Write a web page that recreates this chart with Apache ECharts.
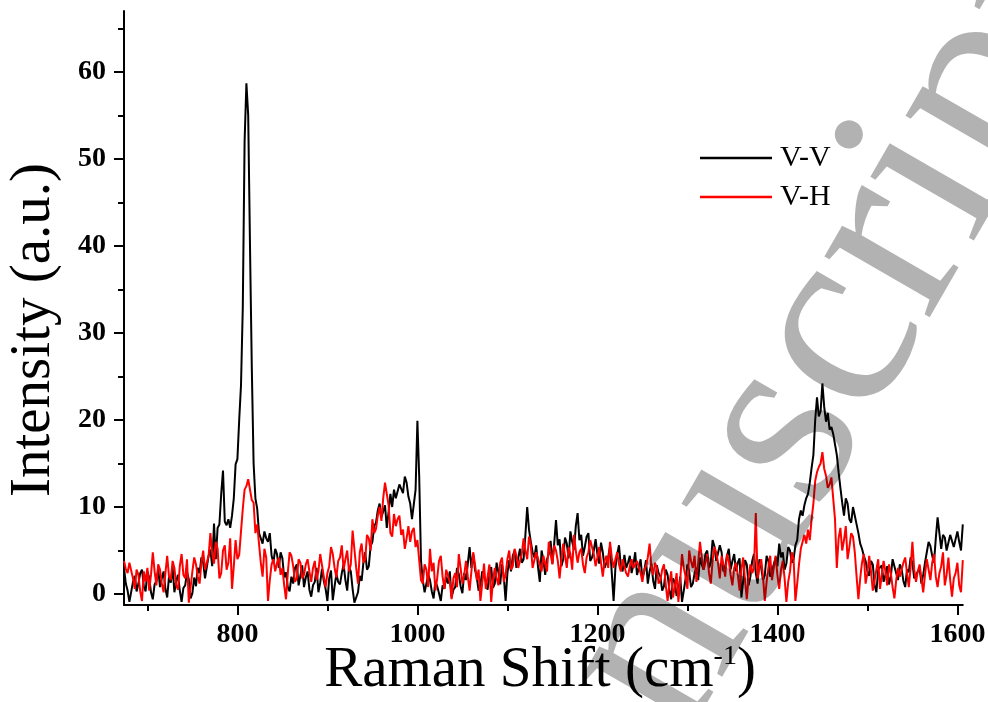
<!DOCTYPE html>
<html>
<head>
<meta charset="utf-8">
<script src="https://cdn.jsdelivr.net/npm/echarts@6/dist/echarts.min.js"></script>
<style>
  html, body { margin: 0; padding: 0; background: #ffffff; }
  #chart { width: 988px; height: 702px; }
</style>
</head>
<body>
<div id="chart"></div>
<script>
// Raman shift grid (cm^-1): first point and spacing
const shiftStart = 674;
const shiftStep = 2;

// V-V polarised intensity (a.u.), one value per grid point (674 ... 1606)
const vv = [
  3.0, 1.2, 0.4, -0.9, -1.0, 1.4, 2.1, 0.3, 1.2, 2.4, 2.8, 0.9, 0.3, 2.6, 1.9, 0.2, -0.6, 1.1, 1.5, 2.9,
  0.8, 1.8, 2.6, 0.6, -0.4, 2.0, 1.3, 3.1, 0.2, 1.5, 2.2, 0.4, -0.9, 0.7, 1.0, 2.5, 1.7, -0.5, 0.1, 1.9,
  0.9, 3.0, 2.4, 4.2, 3.6, 1.8, 2.0, 4.4, 5.1, 3.2, 8.1, 4.0, 7.6, 8.0, 11.5, 14.2, 8.3, 7.9, 8.6, 7.6,
  9.0, 11.0, 14.9, 15.5, 20.0, 24.0, 33.0, 52.0, 58.7, 55.0, 40.0, 26.0, 15.0, 11.0, 9.8, 7.0, 6.9, 5.8, 7.2, 6.4,
  6.0, 7.0, 4.4, 3.6, 5.2, 4.6, 3.0, 4.8, 4.1, 1.9, 2.5, 0.8, 0.3, 2.0, 1.2, 3.0, 3.4, 1.0, 2.1, 3.3,
  0.8, 1.9, 2.6, 0.5, -0.3, 1.0, 1.4, 3.0, 0.2, 1.3, 2.9, 1.5, 0.6, -0.8, 1.8, 2.7, -0.7, 0.9, 2.3, 1.4,
  1.1, 2.4, 3.4, 1.6, 0.4, 3.1, 2.6, 0.6, -1.0, -0.4, 0.2, 2.1, 1.5, 3.6, 4.8, 2.8, 3.2, 5.5, 6.0, 7.8,
  8.2, 9.6, 10.4, 8.8, 9.0, 10.2, 7.6, 9.4, 11.5, 10.0, 12.0, 11.0, 10.8, 12.6, 12.4, 11.6, 13.5, 12.8, 11.2, 10.4,
  8.6, 8.4, 12.0, 19.9, 13.5, 3.8, 1.6, 0.2, 0.4, 2.2, 1.6, 0.3, -0.5, 1.5, 0.9, 0.1, -0.8, 1.0, 0.6, 2.0,
  1.2, 2.6, -0.4, 0.5, 0.8, 3.0, 2.3, 0.9, 0.1, 2.4, 1.6, 3.5, 5.4, 3.0, 4.6, 2.8, 1.9, 0.4, 1.0, 2.6,
  2.8, 1.4, 0.5, 2.2, 3.1, 0.7, 1.2, 3.6, 2.5, 1.1, 3.4, 2.0, -0.8, 2.4, 3.9, 2.6, 4.4, 5.0, 3.0, 4.1,
  5.2, 3.6, 4.0, 6.8, 10.0, 7.4, 6.0, 4.8, 4.2, 5.6, 3.1, 1.4, 5.0, 3.9, 2.2, 4.0, 4.6, 6.1, 3.5, 5.8,
  8.5, 5.6, 6.3, 3.2, 4.0, 6.5, 5.8, 4.1, 7.2, 6.0, 5.1, 7.8, 9.3, 6.2, 6.8, 4.4, 5.4, 6.6, 7.0, 3.8,
  4.2, 5.0, 6.3, 4.6, 3.5, 5.9, 4.8, 3.0, 2.9, 4.2, 5.5, 2.4, -0.8, 3.0, 4.6, 5.6, 3.2, 2.6, 4.5, 3.0,
  3.6, 4.4, 2.4, 3.4, 4.8, 2.2, 3.0, 4.0, 1.8, 2.6, 3.9, 1.2, 2.6, 3.5, 1.5, 0.6, 3.3, 2.4, 2.0, 0.4,
  0.9, 2.8, 2.2, 0.5, -0.6, 1.8, 1.4, -0.2, 0.3, 2.0, -0.9, 0.4, 1.8, 3.4, 2.6, 0.8, 1.2, 2.4, 3.0, 1.6,
  4.2, 3.4, 2.8, 4.6, 5.0, 3.0, 3.6, 6.2, 5.5, 3.8, 4.0, 5.6, 4.8, 2.6, 3.2, 4.4, 5.2, 2.8, 3.8, 4.6,
  2.6, 3.6, 4.1, -0.4, 1.5, 3.9, 3.4, 1.0, 2.0, 3.8, 4.6, 2.4, 1.2, 4.0, 3.0, 1.6, 2.2, 4.4, 3.8, 2.0,
  2.4, 3.4, 4.2, 3.2, 5.8, 4.2, 4.8, 2.8, 3.5, 5.4, 5.0, 3.6, 4.0, 5.6, 6.2, 8.6, 9.6, 9.0, 10.2, 11.0,
  11.5, 12.8, 14.5, 16.0, 20.0, 22.6, 20.4, 21.0, 24.2, 21.5, 19.8, 20.8, 18.9, 19.2, 18.4, 17.2, 16.0, 14.0, 12.2, 10.5,
  9.0, 11.0, 10.4, 8.6, 8.2, 10.0, 9.8, 8.0, 7.0, 5.8, 5.2, 4.4, 3.8, 2.6, 2.1, 3.8, 3.4, 1.0, 0.2, 2.8,
  2.6, 3.3, 1.4, 2.2, 3.2, 1.1, 2.0, 4.0, 3.8, 2.4, 1.6, 3.4, 2.9, 1.5, 0.8, 2.8, 2.5, 4.2, 3.6, 1.8,
  1.8, 2.6, 3.0, 1.2, 2.2, 3.6, 4.8, 6.0, 5.5, 4.4, 3.6, 6.4, 8.8, 7.0, 5.2, 6.8, 6.5, 5.0, 4.8, 6.8,
  7.0, 5.4, 5.6, 7.2, 6.0, 5.0, 8.0
];

// V-H polarised intensity (a.u.), same grid
const vh = [
  3.8, 2.9, 2.4, 3.6, 3.5, 1.8, 0.6, 2.8, 2.2, 0.3, -0.8, 2.6, 1.4, 3.0, 0.4, 2.2, 4.8, 2.6, 1.0, 3.4,
  2.8, 1.2, 0.2, 2.4, 4.4, 2.0, 1.6, 3.8, 3.0, 1.0, 0.5, 3.2, 4.6, 2.2, 1.8, 4.0, -1.0, 0.8, 2.6, 4.2,
  3.4, 2.0, 1.2, 3.6, 5.0, 2.8, 2.6, 4.4, 7.0, 4.6, 3.5, 6.0, 5.2, 1.8, 2.4, 5.0, 5.6, 2.8, 3.6, 6.4,
  0.6, 3.2, 6.2, 4.0, 4.5, 7.2, 9.8, 12.0, 12.4, 13.2, 13.0, 10.8, 10.5, 7.0, 8.0, 5.8, 3.6, 2.0, 5.2, 4.2,
  -0.8, 1.6, 3.4, 4.0, 2.6, 3.6, 4.2, 2.2, 3.0, 1.0, -0.6, 2.4, 4.8, 4.4, 3.2, 1.4, 1.8, 4.0, 3.6, 1.8,
  2.2, 3.4, 4.0, 2.6, 1.4, 3.0, 3.8, 1.6, 2.6, 4.6, 4.4, 2.0, 0.8, 2.4, 3.2, 5.4, 4.6, 3.0, 1.9, 3.8,
  4.2, 5.6, 2.8, 4.0, 5.0, 2.6, 3.4, 7.3, 7.2, 3.0, 1.2, 4.8, 5.8, 3.6, 4.0, 6.8, 6.4, 5.0, 8.6, 7.0,
  7.5, 9.0, 10.0, 8.4, 11.0, 12.8, 12.7, 10.2, 7.0, 6.6, 9.2, 7.8, 8.6, 9.0, 6.8, 7.4, 5.2, 6.4, 7.8, 6.0,
  7.2, 7.6, 5.4, 6.2, 6.4, 1.6, 1.2, 3.4, 2.8, 0.8, 5.2, 2.6, 3.6, 0.4, 1.8, 3.8, 4.4, 2.0, 0.6, 2.8,
  3.0, 1.4, -0.6, 1.8, 2.4, 0.8, 4.6, 3.0, 1.2, 2.2, 3.8, 2.0, 0.4, 2.6, 4.8, 3.4, 1.6, 2.8, -0.8, 1.2,
  3.5, 0.6, 2.0, 3.4, -0.9, 1.6, 3.0, 1.8, 1.0, 3.6, 4.2, 1.4, 2.2, 4.0, 5.0, 2.8, 3.2, 5.2, 4.4, 3.0,
  2.8, 4.6, 6.4, 5.0, 4.0, 6.6, 5.6, 3.0, 3.2, 4.8, 5.0, 3.4, 2.6, 4.4, 4.2, 2.6, 6.0, 4.6, 3.4, 5.6,
  5.0, 3.8, 1.8, 4.0, 5.8, 4.4, 3.0, 5.4, 4.6, 2.8, 6.8, 5.0, 3.6, 4.8, 5.2, 3.4, 2.4, 4.2, 4.8, 6.2,
  6.4, 4.6, 3.2, 4.2, 5.4, 3.6, 2.0, 3.8, 4.4, 3.0, 6.0, 4.2, 3.0, 4.0, 4.8, 3.4, 2.6, 4.0, 3.8, 2.4,
  2.0, 3.2, 4.0, 3.0, 2.8, 3.8, 3.6, 2.4, 1.4, 2.8, 3.2, 4.2, 5.8, 3.0, 2.2, 3.6, 3.0, 1.2, 1.6, 2.8,
  3.4, 1.0, -0.8, 1.2, 2.6, -0.4, 0.8, 2.4, -0.9, 1.6, 4.6, 3.0, 2.0, 0.6, 5.0, 3.8, 3.0, 4.4, 1.4, 3.6,
  6.0, 4.2, 2.8, 3.6, 4.6, 2.4, 1.2, 3.8, 5.4, 4.8, 3.6, 1.8, 4.4, 3.2, 2.0, 4.6, 3.8, 2.2, 1.0, 3.0,
  3.6, 2.2, 0.4, 2.8, 4.2, 1.6, -0.6, 2.0, 3.4, 2.4, 3.0, 9.3, 1.8, 3.2, 4.0, 2.0, -0.8, 1.4, 3.0, 4.4,
  1.6, 3.0, 4.4, 2.2, 0.6, 2.8, 3.8, 1.8, -0.9, 1.4, 2.6, 4.8, 4.0, -0.8, 1.2, 3.4, 5.2, 6.0, 6.8, 5.8,
  7.4, 6.2, 8.6, 10.4, 13.0, 14.0, 14.6, 15.0, 16.3, 14.4, 13.6, 12.2, 12.6, 13.4, 11.0, 8.6, 3.0, 6.4, 7.6, 5.0,
  6.2, 7.8, 4.0, 5.4, 7.0, 6.6, 4.8, 2.0, -0.6, 1.8, 3.6, 4.6, 1.2, 2.4, 4.4, 2.6, 0.4, 1.6, 2.8, 4.0,
  0.6, 2.2, 3.8, 2.6, 1.0, 3.4, 2.4, 0.8, -0.5, 1.6, 3.0, 2.0, 1.8, 3.6, 4.2, 2.4, 0.8, 3.0, 6.0, 2.8,
  1.4, 2.6, 3.4, 1.8, 0.2, 2.2, 4.0, 2.8, 1.6, 3.6, 4.6, 2.0, 0.8, 2.4, 3.2, 4.8, 1.0, 2.2, 4.2, 1.6,
  -0.3, 1.8, 2.4, 3.6, 1.0, 0.2, 3.9
];

const seriesNames = ['V-V', 'V-H'];
const seriesColors = ['#000000', '#ff0000'];

// Axis ticks and labels
const xTicks = [800, 1000, 1200, 1400, 1600];
const xMinorTicks = [700, 900, 1100, 1300, 1500];
const yTicks = [0, 10, 20, 30, 40, 50, 60];
const yMinorTicks = [5, 15, 25, 35, 45, 55, 65];

const xRange = [674, 1606];
const yRange = [-1.26, 67];

const serif = '"Liberation Serif", "Times New Roman", serif';

function pairs(values) {
  return values.map((v, i) => [shiftStart + shiftStep * i, v]);
}

const axisLineStyle = { color: '#000', width: 2 };
const plainNumber = (v) => String(v);

const chart = echarts.init(document.getElementById('chart'), null, { renderer: 'canvas' });

chart.setOption({
  backgroundColor: '#ffffff',
  animation: false,
  grid: {
    left: 124, right: 25.2, top: 11, bottom: 97,
    containLabel: false,
    outerBoundsMode: 'none'
  },
  legend: {
    orient: 'vertical',
    left: 700,
    top: 143,
    padding: 0,
    itemGap: 9,
    itemWidth: 72,
    itemHeight: 2.5,
    icon: 'rect',
    data: seriesNames,
    textStyle: { fontFamily: serif, fontSize: 30, color: '#000', lineHeight: 30, padding: [0, 0, 0, 3] }
  },
  xAxis: [
    {
      type: 'value', min: xRange[0], max: xRange[1], position: 'bottom',
      axisLine: { show: true, onZero: false, lineStyle: axisLineStyle },
      axisTick: { show: true, inside: false, length: 10, lineStyle: axisLineStyle, customValues: xTicks },
      axisLabel: {
        show: true, customValues: xTicks, margin: 16, formatter: plainNumber,
        fontFamily: serif, fontSize: 28, fontWeight: 'bold', color: '#000'
      },
      splitLine: { show: false }
    },
    {
      type: 'value', min: xRange[0], max: xRange[1], position: 'bottom',
      axisLine: { show: false, onZero: false },
      axisTick: { show: true, inside: false, length: 6, lineStyle: axisLineStyle, customValues: xMinorTicks },
      axisLabel: { show: false },
      splitLine: { show: false }
    }
  ],
  yAxis: [
    {
      type: 'value', min: yRange[0], max: yRange[1], position: 'left',
      axisLine: { show: true, onZero: false, lineStyle: axisLineStyle },
      axisTick: { show: true, inside: false, length: 10, lineStyle: axisLineStyle, customValues: yTicks },
      axisLabel: {
        show: true, customValues: yTicks, margin: 18, formatter: plainNumber,
        fontFamily: serif, fontSize: 28, fontWeight: 'bold', color: '#000'
      },
      splitLine: { show: false }
    },
    {
      type: 'value', min: yRange[0], max: yRange[1], position: 'left',
      axisLine: { show: false, onZero: false },
      axisTick: { show: true, inside: false, length: 6, lineStyle: axisLineStyle, customValues: yMinorTicks },
      axisLabel: { show: false },
      splitLine: { show: false }
    }
  ],
  series: [
    {
      name: seriesNames[0], type: 'line', xAxisIndex: 0, yAxisIndex: 0,
      data: pairs(vv), symbol: 'none', color: seriesColors[0],
      lineStyle: { color: seriesColors[0], width: 2 }, z: 2
    },
    {
      name: seriesNames[1], type: 'line', xAxisIndex: 0, yAxisIndex: 0,
      data: pairs(vh), symbol: 'none', color: seriesColors[1],
      lineStyle: { color: seriesColors[1], width: 2 }, z: 3
    }
  ],
  graphic: [
    {
      type: 'text', x: 34, y: 330, rotation: Math.PI / 2,
      style: {
        text: 'Intensity (a.u.)', font: '57px ' + serif, fill: '#000',
        textAlign: 'center', textVerticalAlign: 'middle'
      }
    },
    {
      type: 'text', x: 540, y: 671,
      style: {
        text: '{a|Raman Shift (cm}{b|-1}{a|)}',
        fill: '#000',
        textAlign: 'center', textVerticalAlign: 'middle',
        rich: {
          a: { fontFamily: serif, fontSize: 57, lineHeight: 57, fill: '#000' },
          b: { fontFamily: serif, fontSize: 28, lineHeight: 28, verticalAlign: 'top', fill: '#000' }
        }
      }
    },
    {
      type: 'text', x: 749, y: 491, rotation: Math.PI / 3, z: 100,
      style: {
        text: 'Manuscript', font: '265px ' + serif, fill: 'rgba(0,0,0,0.3)',
        textAlign: 'center', textVerticalAlign: 'middle'
      }
    }
  ]
});
</script>
</body>
</html>
